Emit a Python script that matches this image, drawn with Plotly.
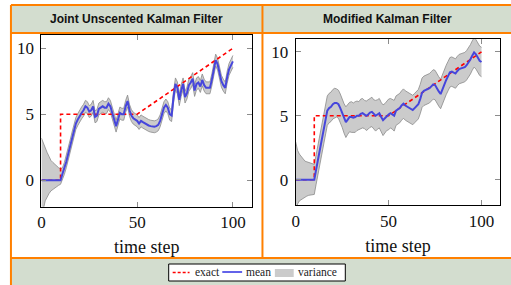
import plotly.graph_objects as go

W, H = 511, 285

# ---------------- data ----------------
time_steps = list(range(0, 101))

exact_t = [0, 10, 10, 50, 100]
exact_v = [0, 0, 5, 5, 10]

jukf_mean = [0, 0, 0, 0, 0, 0, 0, 0, 0, 0, 0,
             0.5, 0.9, 1.4, 2.0, 2.6, 3.2, 3.8, 4.3, 4.6, 4.9,
             5.1, 5.3, 5.6, 5.5, 5.2, 5.3, 5.6, 4.8, 4.9, 5.4,
             5.5, 5.6, 5.5, 5.5, 5.8, 5.6, 5.1, 4.5, 4.1, 4.6,
             5.1, 5.0, 5.0, 5.6, 6.0, 5.3, 4.9, 4.7, 4.6, 4.5,
             4.3, 4.5, 4.4, 4.3, 4.2, 4.15, 4.1, 4.05, 4.05, 4.1,
             4.2, 4.5, 5.0, 5.5, 5.7, 5.5, 5.0, 4.9, 6.3, 7.3,
             7.0, 6.1, 6.8, 7.3, 6.3, 6.6, 7.2, 7.4, 7.7, 6.8,
             7.3, 7.4, 7.1, 7.6, 7.2, 7.0, 7.0, 7.0, 7.6, 8.4,
             9.1, 8.8, 8.0, 7.5, 7.2, 7.0, 7.8, 8.4, 8.7, 9.0]

jukf_upper = [3.2, 2.8, 2.45, 2.1, 1.8, 1.5, 1.35, 1.2, 1.05, 0.95, 0.85,
              0.95, 1.35, 1.85, 2.45, 3.05, 3.65, 4.25, 4.75, 5.05, 5.35,
              5.55, 5.75, 6.05, 5.95, 5.65, 5.75, 6.05, 5.25, 5.35, 5.85,
              5.95, 6.05, 5.95, 5.95, 6.25, 6.05, 5.55, 4.95, 4.55, 5.05,
              5.55, 5.45, 5.45, 6.05, 6.45, 5.75, 5.35, 5.15, 5.05, 4.95,
              4.75, 4.95, 4.85, 4.75, 4.65, 4.6, 4.55, 4.5, 4.5, 4.55,
              4.65, 4.95, 5.45, 5.95, 6.15, 5.95, 5.45, 5.35, 6.75, 7.75,
              7.45, 6.55, 7.25, 7.75, 6.75, 7.05, 7.65, 7.85, 8.15, 7.25,
              7.75, 7.85, 7.55, 8.05, 7.65, 7.45, 7.45, 7.45, 8.05, 8.85,
              9.55, 9.25, 8.45, 7.95, 7.65, 7.45, 8.25, 8.85, 9.15, 9.45]

jukf_lower = [-3.5, -2.2, -1.55, -1.25, -1.0, -0.8, -0.68, -0.58, -0.5, -0.38, -0.3,
              0.05, 0.45, 0.95, 1.55, 2.15, 2.75, 3.35, 3.85, 4.15, 4.45,
              4.65, 4.85, 5.15, 5.05, 4.75, 4.85, 5.15, 4.35, 4.45, 4.95,
              5.05, 5.15, 5.05, 5.05, 5.35, 5.15, 4.65, 4.05, 3.65, 4.15,
              4.65, 4.55, 4.55, 5.15, 5.55, 4.85, 4.45, 4.25, 4.15, 4.05,
              3.85, 4.05, 3.95, 3.85, 3.75, 3.7, 3.65, 3.6, 3.6, 3.65,
              3.75, 4.05, 4.55, 5.05, 5.25, 5.05, 4.55, 4.45, 5.85, 6.85,
              6.55, 5.65, 6.35, 6.85, 5.85, 6.15, 6.75, 6.95, 7.25, 6.35,
              6.85, 6.95, 6.65, 7.15, 6.75, 6.55, 6.55, 6.55, 7.15, 7.95,
              8.65, 8.35, 7.55, 7.05, 6.75, 6.55, 7.35, 7.95, 8.25, 8.55]

mkf_mean = [0, 0, 0, 0, 0, 0, 0, 0, 0, 0, 0,
            0.8, 1.6, 2.5, 3.3, 4.1, 4.9, 5.4, 5.6, 5.7, 5.9,
            6.0, 6.0, 5.9, 5.6, 5.2, 4.8, 4.5, 4.7, 4.9, 4.9,
            4.85, 4.9, 5.0, 5.0, 5.15, 5.2, 5.1, 5.0, 5.1, 5.25,
            5.3, 5.1, 5.0, 5.1, 5.2, 4.9, 4.65, 4.8, 5.0, 5.1,
            5.2, 5.1, 5.0, 5.4, 5.5, 5.6, 5.8, 5.95, 5.8, 5.7,
            5.6, 5.5, 5.45, 5.6, 5.75, 5.9, 6.3, 6.8, 6.95, 7.0,
            7.1, 7.15, 7.3, 7.45, 7.4, 7.1, 6.9, 6.7, 7.1, 7.5,
            7.8, 8.1, 8.4, 8.45, 8.35, 8.3, 8.5, 8.65, 8.7, 8.75,
            8.8, 8.95, 9.15, 9.4, 9.7, 9.95, 9.8, 9.55, 9.3, 9.2]

mkf_upper = [2.95, 2.3, 2.0, 1.8, 1.6, 1.45, 1.4, 1.35, 1.3, 1.25, 1.2,
             1.95, 2.75, 3.65, 4.45, 5.25, 6.05, 6.55, 6.75, 6.85, 7.05,
             7.15, 7.1, 7.0, 6.7, 6.3, 5.95, 5.7, 5.85, 6.05, 6.1,
             6.0, 6.1, 6.15, 6.1, 6.3, 6.35, 6.2, 6.15, 6.25, 6.4,
             6.45, 6.25, 6.2, 6.25, 6.35, 6.05, 5.85, 5.95, 6.15, 6.3,
             6.35, 6.25, 6.2, 6.55, 6.65, 6.75, 6.95, 7.1, 6.95, 6.85,
             6.75, 6.65, 6.6, 6.75, 6.9, 7.05, 7.45, 7.95, 8.1, 8.15,
             8.25, 8.3, 8.45, 8.6, 8.55, 8.25, 8.05, 7.85, 8.25, 8.65,
             8.95, 9.25, 9.55, 9.6, 9.5, 9.45, 9.65, 9.8, 9.85, 9.9,
             9.95, 10.1, 10.3, 10.55, 10.85, 11.1, 10.95, 10.7, 10.45, 10.35]

mkf_lower = [-2.6, -1.9, -1.65, -1.55, -1.45, -1.35, -1.28, -1.22, -1.2, -1.17, -1.15,
             -0.35, 0.45, 1.35, 2.15, 2.95, 3.75, 4.25, 4.45, 4.55, 4.75,
             4.85, 4.9, 4.8, 4.5, 4.1, 3.65, 3.3, 3.55, 3.75, 3.7,
             3.7, 3.7, 3.85, 3.9, 4.0, 4.05, 4.0, 3.85, 3.95, 4.1,
             4.15, 3.95, 3.8, 3.95, 4.05, 3.75, 3.45, 3.65, 3.85, 3.9,
             4.05, 3.95, 3.8, 4.25, 4.35, 4.45, 4.65, 4.8, 4.65, 4.55,
             4.45, 4.35, 4.3, 4.45, 4.6, 4.75, 5.15, 5.65, 5.8, 5.85,
             5.95, 6.0, 6.15, 6.3, 6.25, 5.95, 5.75, 5.55, 5.95, 6.35,
             6.65, 6.95, 7.25, 7.3, 7.2, 7.15, 7.35, 7.5, 7.55, 7.6,
             7.65, 7.8, 8.0, 8.25, 8.55, 8.8, 8.65, 8.4, 8.15, 8.05]

x_ticks = [0, 50, 100]
y_ticks = [0, 5, 10]
panel_titles = ["Joint Unscented Kalman Filter", "Modified Kalman Filter"]
x_label = "time step"
legend_labels = ["exact", "mean", "variance"]

# ---------------- styling ----------------
ORANGE = "#ff8000"
HEADER = "#d3ddcf"
BAND_FILL = "#cbcbcb"
BAND_EDGE = "#8a8a8a"
MEAN_COL = "#4646dc"
EXACT_COL = "#ff0000"
SERIF = "Liberation Serif"
SANS = "Liberation Sans"


def fx(x):
    return x / W


def fy(y):
    return 1 - y / H


fig = go.Figure()

panels = [
    (jukf_mean, jukf_lower, jukf_upper, "x", "y"),
    (mkf_mean, mkf_lower, mkf_upper, "x2", "y2"),
]
for mean, lower, upper, xa, ya in panels:
    fig.add_trace(go.Scatter(x=time_steps, y=lower, mode="lines", xaxis=xa, yaxis=ya,
                             line=dict(color=BAND_EDGE, width=0.8), showlegend=False,
                             hoverinfo="skip"))
    fig.add_trace(go.Scatter(x=time_steps, y=upper, mode="lines", xaxis=xa, yaxis=ya,
                             fill="tonexty", fillcolor=BAND_FILL,
                             line=dict(color=BAND_EDGE, width=0.8), showlegend=False,
                             hoverinfo="skip"))
    fig.add_trace(go.Scatter(x=exact_t, y=exact_v, mode="lines", xaxis=xa, yaxis=ya,
                             line=dict(color=EXACT_COL, width=1.6, dash="4px,3px"),
                             showlegend=False))
    fig.add_trace(go.Scatter(x=time_steps, y=mean, mode="lines", xaxis=xa, yaxis=ya,
                             line=dict(color=MEAN_COL, width=2), showlegend=False))

axis_common = dict(showline=True, linecolor="black", linewidth=1, mirror="ticks",
                   ticks="inside", ticklen=5, tickwidth=1, tickcolor="#8c8c8c",
                   showgrid=False, zeroline=False,
                   tickfont=dict(family=SERIF, size=17, color="#111"))

fig.update_layout(
    width=W, height=H, margin=dict(l=0, r=0, t=0, b=0),
    paper_bgcolor="white", plot_bgcolor="white", showlegend=False,
    xaxis=dict(domain=[fx(37.7), fx(250)], range=[0, 110], tickvals=x_ticks,
               title=dict(text=x_label, font=dict(family=SERIF, size=18, color="#111"), standoff=9),
               anchor="y", **axis_common),
    yaxis=dict(domain=[fy(206.7), fy(35)], range=[-2, 11], tickvals=y_ticks,
               anchor="x", ticklabelstandoff=3, **axis_common),
    xaxis2=dict(domain=[fx(294), fx(500)], range=[0, 110], tickvals=x_ticks,
                title=dict(text=x_label, font=dict(family=SERIF, size=18, color="#111"), standoff=9),
                anchor="y2", **axis_common),
    yaxis2=dict(domain=[fy(205.3), fy(39)], range=[-2, 11], tickvals=y_ticks,
                anchor="x2", ticklabelstandoff=3, **axis_common),
)

shapes = []
# header & footer bands
shapes.append(dict(type="rect", xref="paper", yref="paper", x0=fx(7), x1=1.01, y0=fy(33), y1=fy(5),
                   fillcolor=HEADER, line=dict(width=0), layer="below"))
shapes.append(dict(type="rect", xref="paper", yref="paper", x0=fx(7), x1=1.01, y0=-0.01, y1=fy(258),
                   fillcolor=HEADER, line=dict(width=0), layer="below"))
# orange frame lines
for (x0, y0, x1, y1) in [(7, 5, 512, 5), (7, 5, 7, 286), (7, 33, 512, 33), (7, 258, 512, 258),
                         (260.5, 5, 260.5, 258)]:
    shapes.append(dict(type="line", xref="paper", yref="paper", x0=fx(x0), x1=fx(x1),
                       y0=fy(y0), y1=fy(y1), line=dict(color=ORANGE, width=2)))

# legend box
shapes.append(dict(type="rect", xref="paper", yref="paper", x0=fx(166), x1=fx(344), y0=fy(281), y1=fy(264),
                   fillcolor="white", line=dict(color="black", width=1)))
shapes.append(dict(type="line", xref="paper", yref="paper", x0=fx(170), x1=fx(187), y0=fy(272.5), y1=fy(272.5),
                   line=dict(color=EXACT_COL, width=1.4, dash="3px,2px")))
shapes.append(dict(type="line", xref="paper", yref="paper", x0=fx(220), x1=fx(240), y0=fy(272), y1=fy(272),
                   line=dict(color="#2020e0", width=1.4)))
shapes.append(dict(type="rect", xref="paper", yref="paper", x0=fx(273), x1=fx(292), y0=fy(277), y1=fy(269),
                   fillcolor=BAND_FILL, line=dict(width=0)))
fig.update_layout(shapes=shapes)

annotations = []
for title, cx in zip(panel_titles, [133.5, 386.5]):
    annotations.append(dict(text="<b>" + title + "</b>", xref="paper", yref="paper", x=fx(cx), y=fy(19.5),
                            xanchor="center", yanchor="middle", showarrow=False,
                            font=dict(family=SANS, size=12, color="#111")))
for label, lx in zip(legend_labels, [190, 242, 294]):
    annotations.append(dict(text=label, xref="paper", yref="paper", x=fx(lx), y=fy(272),
                            xanchor="left", yanchor="middle", showarrow=False,
                            font=dict(family=SERIF, size=11.5, color="#222")))
fig.update_layout(annotations=annotations)

fig.write_html("out.html", config={"displayModeBar": False},
               post_script="document.body.style.margin='0';document.body.style.padding='0';"
                           "document.documentElement.style.overflow='hidden';")
